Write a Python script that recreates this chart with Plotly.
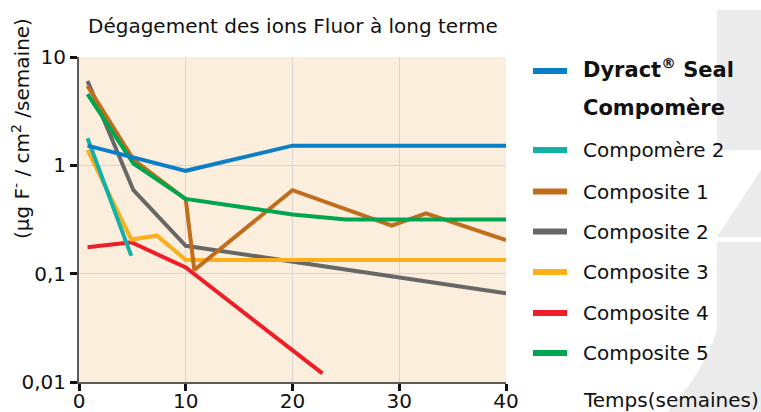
import plotly.graph_objects as go

# ---------------- data ----------------
weeks_dyract = [0.8, 10, 20, 40]
dyract_seal = [1.52, 0.89, 1.52, 1.52]

weeks_compomere2 = [0.8, 4.9]
compomere2 = [1.78, 0.146]

weeks_c1 = [0.8, 5.1, 10, 10.8, 20, 29.3, 32.5, 40]
composite1 = [5.4, 1.13, 0.485, 0.108, 0.59, 0.277, 0.36, 0.204]

weeks_c2 = [0.8, 5.1, 10, 20, 30, 40]
composite2 = [6.0, 0.59, 0.181, 0.129, 0.092, 0.066]

weeks_c3 = [0.8, 4.9, 7.3, 10, 40]
composite3 = [1.38, 0.207, 0.224, 0.134, 0.134]

weeks_c4 = [0.8, 4.9, 10, 20, 22.8]
composite4 = [0.175, 0.195, 0.114, 0.0194, 0.012]

weeks_c5 = [0.8, 5.1, 10, 20, 25, 40]
composite5 = [4.55, 1.04, 0.49, 0.352, 0.316, 0.316]

x_ticks = [0, 10, 20, 30, 40]
y_ticks = [0.01, 0.1, 1, 10]
y_ticktext = ["0,01", "0,1", "1", "10"]

series_names = ["Compomère 2", "Composite 1", "Composite 2",
                "Composite 3", "Composite 4", "Composite 5"]

colors = {
    "dyract": "#0a7fc8",
    "Compomère 2": "#12b2a8",
    "Composite 1": "#c06d1c",
    "Composite 2": "#676767",
    "Composite 3": "#fbb01a",
    "Composite 4": "#ee1d26",
    "Composite 5": "#00a54f",
}

FONT = "DejaVu Sans"
TXT = "#111111"

# ---------------- geometry ----------------
W, H = 761, 412
L, R, T, B = 79, 506, 57, 382  # plot area in px


def px(x):
    return (x - L) / (R - L)


def py(y):
    return (B - y) / (B - T)


fig = go.Figure()

data = [
    (weeks_c4, composite4, "Composite 4"),
    (weeks_c2, composite2, "Composite 2"),
    (weeks_c3, composite3, "Composite 3"),
    (weeks_c1, composite1, "Composite 1"),
    (weeks_compomere2, compomere2, "Compomère 2"),
    (weeks_c5, composite5, "Composite 5"),
    (weeks_dyract, dyract_seal, "dyract"),
]
for xs, ys, key in data:
    fig.add_trace(go.Scatter(
        x=xs, y=ys, mode="lines", name=key,
        line=dict(color=colors[key], width=4),
        showlegend=False, hoverinfo="skip",
    ))

shapes = []
annotations = []

# decorative background shapes (right side)
deco = "#ebebeb"
shapes.append(dict(type="path", xref="paper", yref="paper", layer="below",
                   path=f"M{px(717)},{py(10)} L{px(761)},{py(10)} L{px(761)},{py(150)} L{px(717)},{py(150)} Z",
                   fillcolor=deco, line=dict(width=0)))
shapes.append(dict(type="path", xref="paper", yref="paper", layer="below",
                   path=f"M{px(717)},{py(237)} L{px(761)},{py(170)} L{px(761)},{py(237)} Z",
                   fillcolor=deco, line=dict(width=0)))
shapes.append(dict(type="path", xref="paper", yref="paper", layer="below",
                   path=(f"M{px(717)},{py(242)} L{px(761)},{py(242)} L{px(761)},{py(412)} "
                         f"L{px(667)},{py(412)} Q{px(705)},{py(370)} {px(717)},{py(330)} Z"),
                   fillcolor=deco, line=dict(width=0)))

# manual legend
legend_y = [150, 191.5, 231.5, 272, 313, 353]
legend_rows = [("dyract", 71)] + list(zip(series_names, legend_y))
for key, yc in legend_rows:
    shapes.append(dict(type="line", xref="paper", yref="paper",
                       x0=px(533), x1=px(567), y0=py(yc), y1=py(yc),
                       line=dict(color=colors[key], width=6)))

annotations.append(dict(text="<b>Dyract<sup>®</sup> Seal</b>", xref="paper", yref="paper",
                        x=px(581), y=py(68), xanchor="left", yanchor="middle",
                        showarrow=False, font=dict(family=FONT, size=21, color=TXT)))
annotations.append(dict(text="<b>Compomère</b>", xref="paper", yref="paper",
                        x=px(581), y=py(108), xanchor="left", yanchor="middle",
                        showarrow=False, font=dict(family=FONT, size=21, color=TXT)))
for name, yc in zip(series_names, legend_y):
    annotations.append(dict(text=name, xref="paper", yref="paper",
                            x=px(581), y=py(yc), xanchor="left", yanchor="middle",
                            showarrow=False, font=dict(family=FONT, size=20, color=TXT)))

# title, axis titles
annotations.append(dict(text="Dégagement des ions Fluor à long terme", xref="paper", yref="paper",
                        x=px(86), y=py(26), xanchor="left", yanchor="middle",
                        showarrow=False, font=dict(family=FONT, size=20, color=TXT)))
annotations.append(dict(text="(µg F<sup>-</sup> / cm<sup>2</sup> /semaine)", xref="paper", yref="paper",
                        x=px(21), y=py(129), xanchor="center", yanchor="middle", textangle=-90,
                        showarrow=False, font=dict(family=FONT, size=20, color=TXT)))
annotations.append(dict(text="Temps(semaines)", xref="paper", yref="paper",
                        x=px(581), y=py(400), xanchor="left", yanchor="middle",
                        showarrow=False, font=dict(family=FONT, size=20, color=TXT)))

fig.update_layout(
    width=W, height=H,
    margin=dict(l=L, r=W - R, t=T, b=H - B, pad=0),
    paper_bgcolor="white",
    plot_bgcolor="#fbeedd",
    shapes=shapes,
    annotations=annotations,
    font=dict(family=FONT, size=20, color=TXT),
)
fig.update_xaxes(
    range=[0, 40], tickvals=x_ticks, ticks="outside", ticklen=7, tickwidth=3,
    tickcolor="#111111", showline=True, linecolor="#5e5a56", linewidth=2,
    showgrid=True, gridcolor="#d8d5d2", gridwidth=1, zeroline=False,
    tickfont=dict(family=FONT, size=20, color=TXT), automargin=False,
    ticklabelstandoff=-7,
)
fig.update_yaxes(
    type="log", range=[-2, 1], tickvals=y_ticks, ticktext=y_ticktext,
    ticks="outside", ticklen=7, tickwidth=3, tickcolor="#111111",
    showline=True, linecolor="#5e5a56", linewidth=2,
    showgrid=True, gridcolor="#d8d5d2", gridwidth=1, zeroline=False,
    tickfont=dict(family=FONT, size=20, color=TXT), automargin=False,
)

fig.write_html("out.html", config={"displayModeBar": False},
               post_script="document.body.style.margin='0';document.body.style.overflow='hidden';")
